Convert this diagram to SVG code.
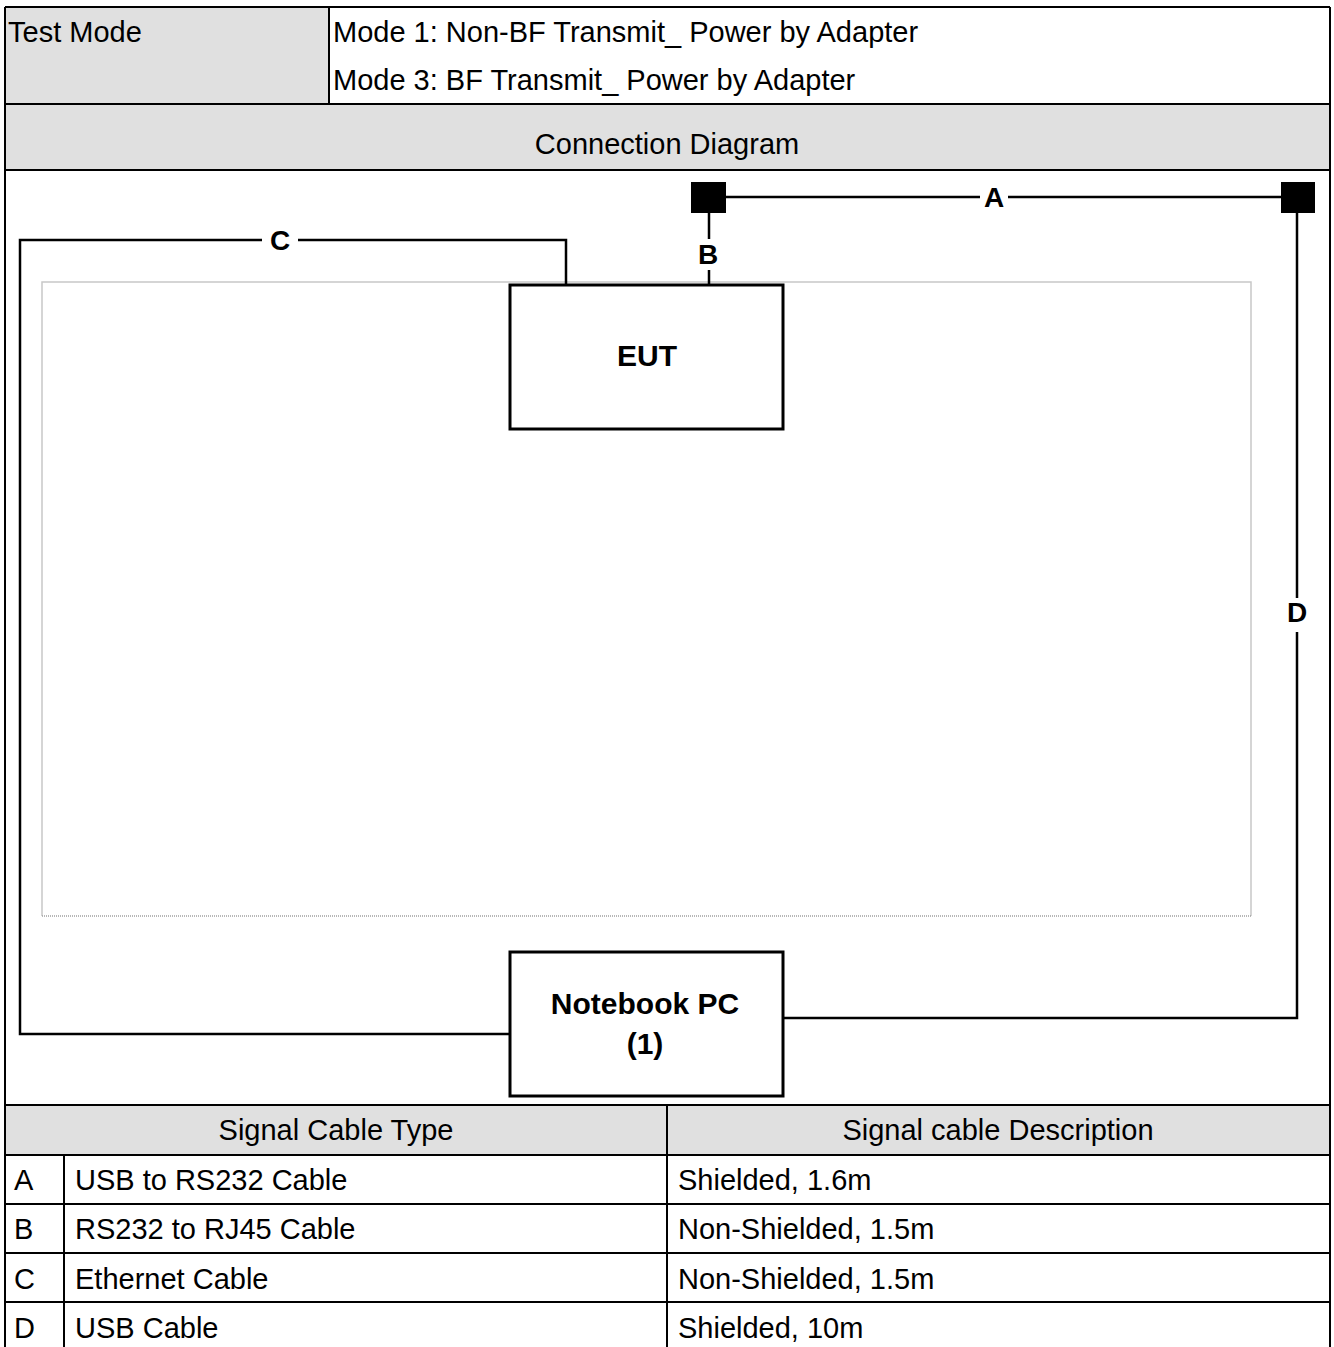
<svg xmlns="http://www.w3.org/2000/svg" width="1334" height="1347" viewBox="0 0 1334 1347">
<style>
.t{font-family:"Liberation Sans",Arial,sans-serif;font-size:29px;fill:#000}
.b{font-family:"Liberation Sans",Arial,sans-serif;font-weight:bold;fill:#000}
.grid{stroke:#000;stroke-width:2;fill:none}
.wire{stroke:#000;stroke-width:2.5;fill:none}
.box{fill:#fff;stroke:#000;stroke-width:3}
</style>
<rect x="0" y="0" width="1334" height="1347" fill="#fff"/>
<g id="table">
<rect x="5" y="7" width="324" height="97" fill="#e0e0e0"/>
<rect x="5" y="104" width="1325" height="66" fill="#e0e0e0"/>
<rect x="5" y="1105" width="1325" height="50" fill="#e0e0e0"/>
<path class="grid" d="M5,7H1330M5,104H1330M5,170H1330M5,1105H1330M5,1155H1330M5,1204H1330M5,1253H1330M5,1302H1330M5,7V1347M1330,7V1347M329,7V104M667,1105V1347M64,1155V1347"/>
<text class="t" x="8" y="42">Test Mode</text>
<text class="t" x="333" y="42">Mode 1: Non-BF Transmit_ Power by Adapter</text>
<text class="t" x="333" y="90">Mode 3: BF Transmit_ Power by Adapter</text>
<text class="t" x="667" y="154" text-anchor="middle">Connection Diagram</text>
<text class="t" x="336" y="1140" text-anchor="middle">Signal Cable Type</text>
<text class="t" x="998" y="1140" text-anchor="middle">Signal cable Description</text>
<text class="t" x="14" y="1190">A</text>
<text class="t" x="75" y="1190">USB to RS232 Cable</text>
<text class="t" x="678" y="1190">Shielded, 1.6m</text>
<text class="t" x="14" y="1239">B</text>
<text class="t" x="75" y="1239">RS232 to RJ45 Cable</text>
<text class="t" x="678" y="1239">Non-Shielded, 1.5m</text>
<text class="t" x="14" y="1289">C</text>
<text class="t" x="75" y="1289">Ethernet Cable</text>
<text class="t" x="678" y="1289">Non-Shielded, 1.5m</text>
<text class="t" x="14" y="1338">D</text>
<text class="t" x="75" y="1338">USB Cable</text>
<text class="t" x="678" y="1338">Shielded, 10m</text>
</g>
<g id="area">
<path d="M42,916V282H1251V916" fill="none" stroke="#c8c8c8" stroke-width="1.5"/>
<path d="M42,916H1251" fill="none" stroke="#a0a0a0" stroke-width="1.5" stroke-dasharray="1,1"/>
</g>
<g id="connectors">
<path class="wire" d="M726,197H980M1008,197H1281"/>
<text class="b" x="994" y="207" font-size="28" text-anchor="middle">A</text>
<path class="wire" d="M709,213V239M709,270V285"/>
<text class="b" x="708" y="264" font-size="28" text-anchor="middle">B</text>
<path class="wire" d="M566,285V240H298M262,240H20V1034H510"/>
<text class="b" x="280" y="250" font-size="28" text-anchor="middle">C</text>
<path class="wire" d="M1297,213V598M1297,632V1018H783"/>
<text class="b" x="1297" y="622" font-size="28" text-anchor="middle">D</text>
</g>
<g id="square-left"><rect x="691" y="182" width="35" height="31" fill="#000"/></g>
<g id="square-right"><rect x="1281" y="182" width="34" height="31" fill="#000"/></g>
<g id="eut">
<rect class="box" x="510" y="285" width="273" height="144"/>
<text class="b" x="647" y="366" font-size="30" text-anchor="middle">EUT</text>
</g>
<g id="notebook">
<rect class="box" x="510" y="952" width="273" height="144"/>
<text class="b" x="645" y="1014" font-size="30" text-anchor="middle">Notebook PC</text>
<text class="b" x="645" y="1054" font-size="30" text-anchor="middle">(1)</text>
</g>
</svg>
